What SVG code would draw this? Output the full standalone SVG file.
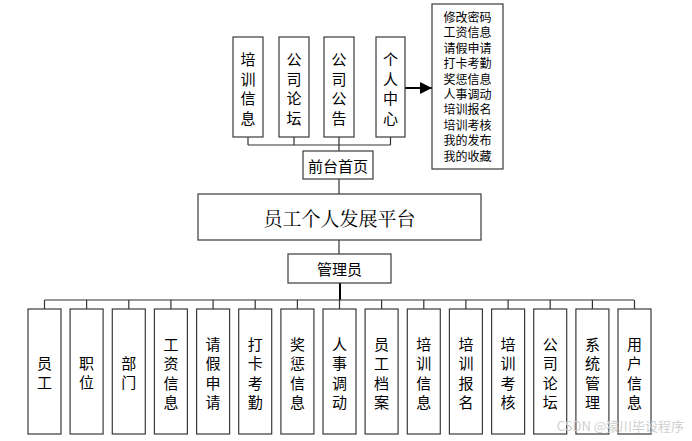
<svg xmlns="http://www.w3.org/2000/svg" width="692" height="441" viewBox="0 0 692 441">
<style>
.box{fill:#fff;stroke:#3a3a3a;stroke-width:1.2}
.t{font-family:"Noto Sans CJK SC","Noto Sans",sans-serif;fill:#000;text-anchor:middle;dominant-baseline:central}
.v{font-size:15px}
.tp{font-size:15px}
.ls{font-size:12px}
.ln{stroke:#333;stroke-width:1.2;fill:none}
</style>
<defs>
<marker id="arr" viewBox="0 0 12 12" refX="12" refY="6" markerWidth="12" markerHeight="12" markerUnits="userSpaceOnUse" orient="auto">
<path d="M0,0 L12,6 L0,12 Z" fill="#000"/>
</marker>
</defs>
<rect width="692" height="441" fill="#fff"/>
<g id="connectors">
<path class="ln" d="M248,137 V145 M294,137 V145 M339,137 V151 M390.5,137 V145 M248,145 H390.5"/>
<line x1="405" y1="88" x2="432" y2="88" stroke="#000" stroke-width="2" marker-end="url(#arr)"/>
<path class="ln" d="M339,179 V194 M339,240 V254"/>
<path d="M340,283 V300" stroke="#000" stroke-width="2"/>
<path class="ln" d="M44.5,300 H634"/>
<path class="ln" d="M44.5,300 V309 M86.6,300 V309 M128.8,300 V309 M170.9,300 V309 M213.1,300 V309 M255.2,300 V309 M297.4,300 V309 M339.5,300 V309 M381.6,300 V309 M423.8,300 V309 M465.9,300 V309 M508.1,300 V309 M550.2,300 V309 M592.4,300 V309 M634.5,300 V309"/>
</g>
<g id="n_top1"><rect class="box" x="233" y="37" width="30" height="100"/><text class="t tp"><tspan x="248" y="58">培</tspan><tspan x="248" y="77.5">训</tspan><tspan x="248" y="97">信</tspan><tspan x="248" y="116.5">息</tspan></text></g>
<g id="n_top2"><rect class="box" x="279" y="37" width="30" height="100"/><text class="t tp"><tspan x="294" y="58">公</tspan><tspan x="294" y="77.5">司</tspan><tspan x="294" y="97">论</tspan><tspan x="294" y="116.5">坛</tspan></text></g>
<g id="n_top3"><rect class="box" x="324" y="37" width="30" height="100"/><text class="t tp"><tspan x="339" y="58">公</tspan><tspan x="339" y="77.5">司</tspan><tspan x="339" y="97">公</tspan><tspan x="339" y="116.5">告</tspan></text></g>
<g id="n_top4"><rect class="box" x="376" y="37" width="29" height="100"/><text class="t tp"><tspan x="390.5" y="58">个</tspan><tspan x="390.5" y="77.5">人</tspan><tspan x="390.5" y="97">中</tspan><tspan x="390.5" y="116.5">心</tspan></text></g>
<g id="n_list"><rect class="box" x="432" y="4" width="71" height="165"/>
<text class="t ls" x="467.5" y="16.5">修改密码</text>
<text class="t ls" x="467.5" y="31.9">工资信息</text>
<text class="t ls" x="467.5" y="47.3">请假申请</text>
<text class="t ls" x="467.5" y="62.7">打卡考勤</text>
<text class="t ls" x="467.5" y="78.1">奖惩信息</text>
<text class="t ls" x="467.5" y="93.5">人事调动</text>
<text class="t ls" x="467.5" y="108.9">培训报名</text>
<text class="t ls" x="467.5" y="124.3">培训考核</text>
<text class="t ls" x="467.5" y="139.7">我的发布</text>
<text class="t ls" x="467.5" y="155.1">我的收藏</text>
</g>
<g id="n_front"><rect class="box" x="303" y="151" width="70" height="28"/><text class="t" x="338" y="165" style="font-size:15px">前台首页</text></g>
<g id="n_platform"><rect class="box" x="198" y="194" width="283" height="46"/><text class="t" x="339.5" y="217" style="font-size:19px;font-family:'Noto Serif CJK SC','Noto Sans CJK SC',serif">员工个人发展平台</text></g>
<g id="n_admin"><rect class="box" x="288" y="254" width="103" height="29"/><text class="t" x="339.5" y="268.5" style="font-size:15px">管理员</text></g>
<g id="n_b1"><rect class="box" x="28" y="309" width="33" height="125"/><text class="t v"><tspan x="44.5" y="362">员</tspan><tspan x="44.5" y="381">工</tspan></text></g>
<g id="n_b2"><rect class="box" x="70.1" y="309" width="33" height="125"/><text class="t v"><tspan x="86.6" y="362">职</tspan><tspan x="86.6" y="381">位</tspan></text></g>
<g id="n_b3"><rect class="box" x="112.3" y="309" width="33" height="125"/><text class="t v"><tspan x="128.8" y="362">部</tspan><tspan x="128.8" y="381">门</tspan></text></g>
<g id="n_b4"><rect class="box" x="154.4" y="309" width="33" height="125"/><text class="t v"><tspan x="170.9" y="342.5">工</tspan><tspan x="170.9" y="362">资</tspan><tspan x="170.9" y="381.5">信</tspan><tspan x="170.9" y="401">息</tspan></text></g>
<g id="n_b5"><rect class="box" x="196.6" y="309" width="33" height="125"/><text class="t v"><tspan x="213.1" y="342.5">请</tspan><tspan x="213.1" y="362">假</tspan><tspan x="213.1" y="381.5">申</tspan><tspan x="213.1" y="401">请</tspan></text></g>
<g id="n_b6"><rect class="box" x="238.7" y="309" width="33" height="125"/><text class="t v"><tspan x="255.2" y="342.5">打</tspan><tspan x="255.2" y="362">卡</tspan><tspan x="255.2" y="381.5">考</tspan><tspan x="255.2" y="401">勤</tspan></text></g>
<g id="n_b7"><rect class="box" x="280.9" y="309" width="33" height="125"/><text class="t v"><tspan x="297.4" y="342.5">奖</tspan><tspan x="297.4" y="362">惩</tspan><tspan x="297.4" y="381.5">信</tspan><tspan x="297.4" y="401">息</tspan></text></g>
<g id="n_b8"><rect class="box" x="323" y="309" width="33" height="125"/><text class="t v"><tspan x="339.5" y="342.5">人</tspan><tspan x="339.5" y="362">事</tspan><tspan x="339.5" y="381.5">调</tspan><tspan x="339.5" y="401">动</tspan></text></g>
<g id="n_b9"><rect class="box" x="365.1" y="309" width="33" height="125"/><text class="t v"><tspan x="381.6" y="342.5">员</tspan><tspan x="381.6" y="362">工</tspan><tspan x="381.6" y="381.5">档</tspan><tspan x="381.6" y="401">案</tspan></text></g>
<g id="n_b10"><rect class="box" x="407.3" y="309" width="33" height="125"/><text class="t v"><tspan x="423.8" y="342.5">培</tspan><tspan x="423.8" y="362">训</tspan><tspan x="423.8" y="381.5">信</tspan><tspan x="423.8" y="401">息</tspan></text></g>
<g id="n_b11"><rect class="box" x="449.4" y="309" width="33" height="125"/><text class="t v"><tspan x="465.9" y="342.5">培</tspan><tspan x="465.9" y="362">训</tspan><tspan x="465.9" y="381.5">报</tspan><tspan x="465.9" y="401">名</tspan></text></g>
<g id="n_b12"><rect class="box" x="491.6" y="309" width="33" height="125"/><text class="t v"><tspan x="508.1" y="342.5">培</tspan><tspan x="508.1" y="362">训</tspan><tspan x="508.1" y="381.5">考</tspan><tspan x="508.1" y="401">核</tspan></text></g>
<g id="n_b13"><rect class="box" x="533.7" y="309" width="33" height="125"/><text class="t v"><tspan x="550.2" y="342.5">公</tspan><tspan x="550.2" y="362">司</tspan><tspan x="550.2" y="381.5">论</tspan><tspan x="550.2" y="401">坛</tspan></text></g>
<g id="n_b14"><rect class="box" x="575.9" y="309" width="33" height="125"/><text class="t v"><tspan x="592.4" y="342.5">系</tspan><tspan x="592.4" y="362">统</tspan><tspan x="592.4" y="381.5">管</tspan><tspan x="592.4" y="401">理</tspan></text></g>
<g id="n_b15"><rect class="box" x="618" y="309" width="33" height="125"/><text class="t v"><tspan x="634.5" y="342.5">用</tspan><tspan x="634.5" y="362">户</tspan><tspan x="634.5" y="381.5">信</tspan><tspan x="634.5" y="401">息</tspan></text></g>
<text x="684" y="425" style="font-family:'Noto Sans CJK SC',sans-serif;font-size:13px;fill:#d0d0d0;text-anchor:end;dominant-baseline:central">CSDN @猿川毕设程序</text>
</svg>
